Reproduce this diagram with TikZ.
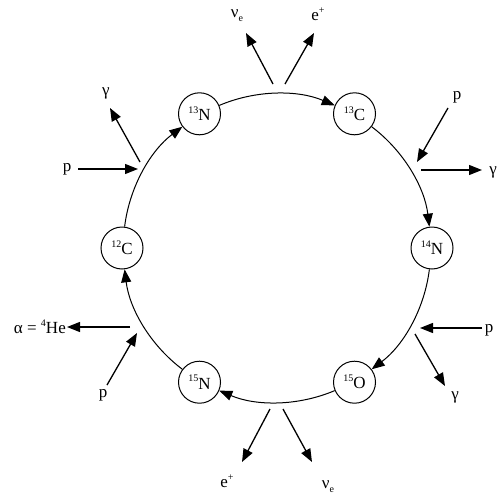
\documentclass[tikz,border=0pt]{standalone}
\usepackage{fontspec}
\setmainfont{Liberation Serif}
\usetikzlibrary{arrows.meta}
\newcommand{\supx}[1]{\raisebox{0.42em}{\fontsize{10}{10}\selectfont #1}}
\newcommand{\subx}[1]{\raisebox{-0.25em}{\fontsize{10}{10}\selectfont #1}}
\begin{document}
\begin{tikzpicture}[x=1pt,y=1pt,
  nuc/.style={draw, circle, line width=1pt, minimum size=42pt, inner sep=0pt, fill=white, font=\fontsize{17}{17}\selectfont},
  cyc/.style={line width=1pt, -{Triangle[length=13pt,width=10pt]}, bend left=23, distance=40pt},
  rx/.style={line width=1.3pt, -{Triangle[length=13pt,width=10pt]}},
  lab/.style={inner sep=0pt, font=\fontsize{17}{17}\selectfont}]
\useasboundingbox (0,0) rectangle (500,-495);
% nuclei
\node[nuc] (c12) at (122,-248) {\supx{12}C};
\node[nuc] (n13) at (199.5,-113.8) {\supx{13}N};
\node[nuc] (c13) at (354.5,-113.8) {\supx{13}C};
\node[nuc] (n14) at (432,-248) {\supx{14}N};
\node[nuc] (o15) at (354.5,-382.2) {\supx{15}O};
\node[nuc] (n15) at (199.5,-382.2) {\supx{15}N};
% cycle
\draw[cyc] (c12) to (n13);
\draw[cyc] (n13) to (c13);
\draw[cyc] (c13) to (n14);
\draw[cyc] (n14) to (o15);
\draw[cyc] (o15) to (n15);
\draw[cyc] (n15) to (c12);
% labels
\node[lab] (p1) at (67,-169) {p};
\node[lab] (g1) at (106,-93) {γ};
\node[lab] (nu1) at (237,-16) {ν\subx{e}};
\node[lab] (e1) at (318,-14) {e\supx{+}};
\node[lab] (p2) at (457,-97) {p};
\node[lab] (g2) at (493,-172) {γ};
\node[lab] (p3) at (489,-330) {p};
\node[lab] (g3) at (455,-397) {γ};
\node[lab] (e2) at (227,-481) {e\supx{+}};
\node[lab] (nu2) at (328,-487) {ν\subx{e}};
\node[lab, anchor=east] (al) at (66,-327) {α = \supx{4}He};
\node[lab] (p4) at (103,-395) {p};
% reaction arrow end points
\coordinate (a1s) at (78,-169);  \coordinate (a1e) at (138,-169);
\coordinate (b1s) at (140,-162); \coordinate (b1e) at (110,-108);
\coordinate (a2s) at (273,-84);  \coordinate (a2e) at (246,-33);
\coordinate (b2s) at (285,-84);  \coordinate (b2e) at (314,-33);
\coordinate (a3s) at (448,-108); \coordinate (a3e) at (417,-162);
\coordinate (b3s) at (421,-170); \coordinate (b3e) at (482,-170);
\coordinate (a4s) at (482,-328); \coordinate (a4e) at (420,-328);
\coordinate (b4s) at (415,-334); \coordinate (b4e) at (445,-386);
\coordinate (a5s) at (270,-409); \coordinate (a5e) at (242,-462);
\coordinate (b5s) at (283,-409); \coordinate (b5e) at (312,-462);
\coordinate (a6s) at (130,-327); \coordinate (a6e) at (67,-327);
\coordinate (b6s) at (107,-385); \coordinate (b6e) at (137,-333);
\foreach \r in {1,...,6} {
  \draw[rx] (a\r s) -- (a\r e);
  \draw[rx] (b\r s) -- (b\r e);
}
\end{tikzpicture}
\end{document}
